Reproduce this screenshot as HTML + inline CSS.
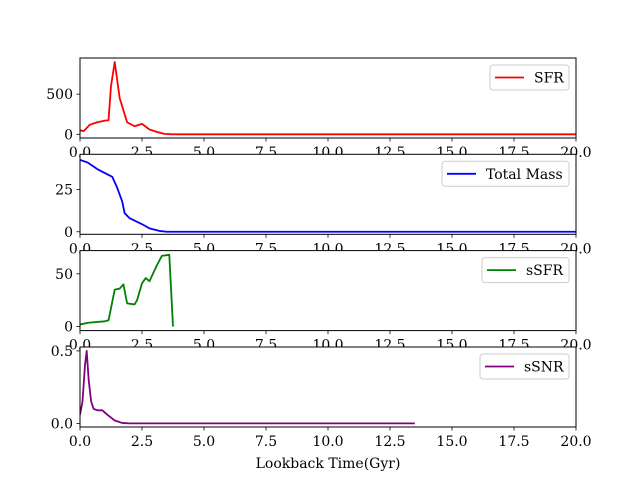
<!DOCTYPE html>
<html><head><meta charset="utf-8"><style>
html,body{margin:0;padding:0;background:#fff;}
svg text{font-family:"DejaVu Serif","Liberation Serif",serif;font-size:14px;fill:#000;}
</style></head><body>
<svg id="fig" width="640" height="480" xmlns="http://www.w3.org/2000/svg"></svg>
<script>
const xTicks = [0, 2.5, 5, 7.5, 10, 12.5, 15, 17.5, 20];
const xTickLabels = ["0.0","2.5","5.0","7.5","10.0","12.5","15.0","17.5","20.0"];

const sfrX = [0,0.15,0.4,0.7,1.0,1.15,1.25,1.4,1.6,1.9,2.2,2.5,2.8,3.1,3.4,3.7,20];
const sfrY = [50,40,120,150,170,175,600,900,450,150,100,130,60,30,5,0,0];

const massX = [0,0.3,0.7,1.3,1.5,1.7,1.8,2.0,2.5,2.8,3.2,3.5,20];
const massY = [42.5,41,37,32.5,26,18,11,8,4.5,2,0.5,0,0];

const ssfrX = [0,0.3,0.5,1.0,1.15,1.4,1.6,1.75,1.9,2.2,2.3,2.5,2.65,2.8,3.1,3.3,3.6,3.75];
const ssfrY = [2,3.5,4,5,6,35,36,40,22,21,25,41,46,43,58,67,68,0];

const ssnrX = [0,0.1,0.2,0.27,0.35,0.45,0.55,0.7,0.9,1.1,1.4,1.7,2.0,13.5];
const ssnrY = [0.06,0.15,0.4,0.5,0.3,0.15,0.1,0.09,0.09,0.06,0.02,0.003,0,0];

const panels = [
 {name:"sfr", label:"SFR", color:"#ff0000", xs:sfrX, ys:sfrY, ymin:-46, ymax:950, yt:[0,500], ytl:["0","500"], top:58, lw:79},
 {name:"total-mass", label:"Total Mass", color:"#0000ff", xs:massX, ys:massY, ymin:-1.5, ymax:45.8, yt:[0,25], ytl:["0","25"], top:154.3, lw:127},
 {name:"ssfr", label:"sSFR", color:"#008000", xs:ssfrX, ys:ssfrY, ymin:-3.8, ymax:72, yt:[0,50], ytl:["0","50"], top:250.6, lw:87},
 {name:"ssnr", label:"sSNR", color:"#800080", xs:ssnrX, ys:ssnrY, ymin:-0.025, ymax:0.527, yt:[0,0.5], ytl:["0.0","0.5"], top:347, lw:89}
];
const NS="http://www.w3.org/2000/svg";
const svg=document.getElementById('fig');
const X0=80, X1=576, H=80;
function mk(tag, attrs, parent){const e=document.createElementNS(NS,tag);for(const k in attrs)e.setAttribute(k,attrs[k]);(parent||svg).appendChild(e);return e;}
panels.forEach(p=>{
  const g=mk('g',{});
  
  
  const top=p.top, bot=p.top+H;
  const sx=v=>X0+(v-0)/(20-0)*(X1-X0);
  const sy=v=>bot-(v-p.ymin)/(p.ymax-p.ymin)*H;
  mk('rect',{x:X0,y:top,width:X1-X0,height:H,fill:'#fff'},g);
  const cp=mk('clipPath',{id:'c'+p.name},g);
  mk('rect',{x:X0,y:top,width:X1-X0,height:H},cp);
  const pts=p.xs.map((x,i)=>sx(x).toFixed(2)+','+sy(p.ys[i]).toFixed(2)).join(' ');
  const line=mk('polyline',{points:pts,fill:'none',stroke:p.color,'stroke-width':1.8,'stroke-linejoin':'round','clip-path':'url(#c'+p.name+')'},g);
  
  
  mk('rect',{x:X0,y:top,width:X1-X0,height:H,fill:'none',stroke:'#000','stroke-width':1},g);
  xTicks.forEach((t,i)=>{
    mk('line',{x1:sx(t),x2:sx(t),y1:bot,y2:bot+3.5,stroke:'#000','stroke-width':0.8},g);
    const tx=mk('text',{x:sx(t),y:bot+19,'text-anchor':'middle'},g);
    tx.textContent=xTickLabels[i];
    
    
  });
  p.yt.forEach((t,i)=>{
    mk('line',{x1:X0-3.5,x2:X0,y1:sy(t),y2:sy(t),stroke:'#000','stroke-width':0.8},g);
    const tx=mk('text',{x:X0-7,y:sy(t)+5,'text-anchor':'end'},g);
    tx.textContent=p.ytl[i];
    
    
  });
  const lg=mk('g',{},g);
  
  
  const lx=569-p.lw, ly=top+7;
  mk('rect',{x:lx,y:ly,width:p.lw,height:25,rx:3,fill:'#fff','fill-opacity':0.8,stroke:'#ccc','stroke-width':1},lg);
  mk('line',{x1:lx+5,x2:lx+34,y1:ly+12.5,y2:ly+12.5,stroke:p.color,'stroke-width':1.8},lg);
  const lt=mk('text',{x:lx+44,y:ly+17.5},lg);
  lt.textContent=p.label;
});
const xl=mk('text',{x:328,y:468,'text-anchor':'middle'});
xl.textContent='Lookback Time(Gyr)';


</script>
</body></html>
